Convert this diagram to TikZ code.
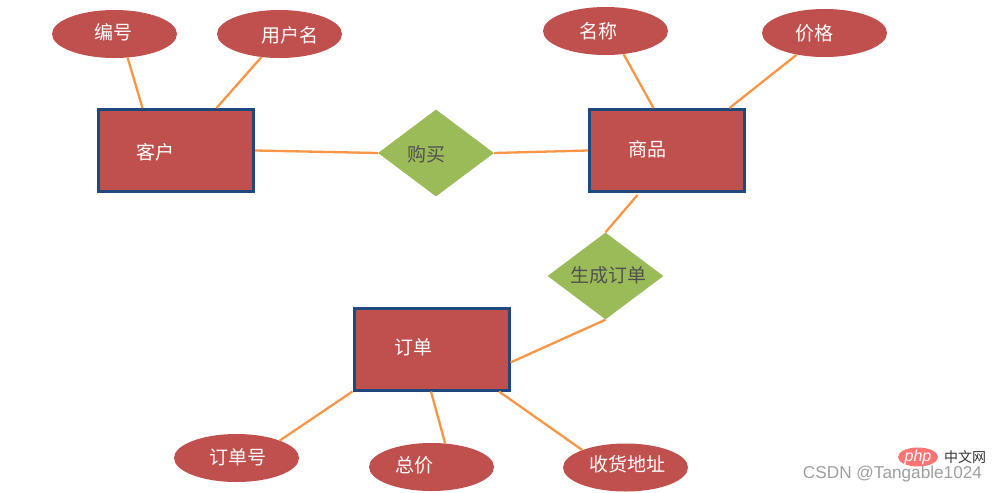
\documentclass[tikz,border=0pt]{standalone}
\usepackage{fontspec}
\setmainfont{Noto Sans CJK SC}
\newfontfamily\wmfont{Liberation Sans}
\usetikzlibrary{shapes.geometric}
\definecolor{erred}{HTML}{C0504D}
\definecolor{erblue}{HTML}{1F497D}
\definecolor{ergreen}{HTML}{9BBB59}
\definecolor{erorange}{HTML}{F79646}
\definecolor{ergray}{HTML}{505050}
\tikzset{
  attr/.style={ellipse, fill=erred, minimum width=125pt, minimum height=48pt, inner sep=0pt},
  entity/.style={rectangle, fill=erred, draw=erblue, line width=3pt, minimum width=155pt, minimum height=82pt, inner sep=0pt},
  rel/.style={diamond, fill=ergreen, minimum width=116pt, minimum height=87pt, inner sep=0pt, aspect=1.33},
  wlabel/.style={text=white, font=\fontsize{19}{21}\selectfont, inner sep=0pt},
  glabel/.style={text=ergray, font=\fontsize{19}{21}\selectfont, inner sep=0pt},
  link/.style={draw=erorange, line width=2.3pt}
}
\begin{document}
\begin{tikzpicture}[x=1pt,y=-1pt]
\useasboundingbox (0,0) rectangle (997,493);
% attributes
\node[attr] (bh) at (114.5,34) {};
\node[wlabel] at (113,32) {编号};
\node[attr] (yhm) at (279.5,34) {};
\node[wlabel] at (290,35) {用户名};
\node[attr] (mc) at (605.5,31) {};
\node[wlabel] at (598,31) {名称};
\node[attr] (jg) at (824.5,33) {};
\node[wlabel] at (814,33) {价格};
\node[attr] (ddh) at (236.5,458) {};
\node[wlabel] at (238,457) {订单号};
\node[attr] (zj) at (431.5,467) {};
\node[wlabel] at (414,465) {总价};
\node[attr] (shdz) at (625.5,467.5) {};
\node[wlabel] at (627,464) {收货地址};
% entities
\node[entity] (kh) at (176,150.5) {};
\node[wlabel] at (155,152) {客户};
\node[entity] (sp) at (667,150.5) {};
\node[wlabel] at (647,149) {商品};
\node[entity] (dd) at (431.5,349) {};
\node[wlabel] at (413,347) {订单};
% relations
\node[rel] (gm) at (436,153) {};
\node[glabel] at (426,154) {购买};
\node[rel] (scdd) at (605.5,276) {};
\node[glabel] at (608,275) {生成订单};
% links
\draw[link] (bh.-61) -- ([xshift=45.5pt]kh.north west);
\draw[link] (yhm.-128) -- ([xshift=119.5pt]kh.north west);
\draw[link] (kh.east) -- (gm.west);
\draw[link] (gm.east) -- (sp.west);
\draw[link] (mc.-52) -- ([xshift=65.5pt]sp.north west);
\draw[link] (jg.-142) -- ([xshift=141.5pt]sp.north west);
\draw[link] ([xshift=49.5pt,yshift=-2pt]sp.south west) -- (scdd.north);
\draw[link] (scdd.south) -- ([yshift=29pt]dd.south east);
\draw[link] (dd.south west) -- (ddh.22);
\draw[link] ([xshift=78.5pt]dd.south west) -- (zj.60);
\draw[link] ([xshift=146.5pt]dd.south west) -- (shdz.158);
% watermark
\node[ellipse, fill=red!55!white, minimum width=40pt, minimum height=19pt, inner sep=0pt] (php) at (918,457) {};
\node[text=white, font=\wmfont\itshape\fontsize{16}{17}\selectfont, inner sep=0pt] at (php.center) {php};
\node[text=black!80, font=\fontsize{14}{15}\selectfont, inner sep=0pt] (zw) at (965,457) {中文网};
\node[text=black!38, font=\wmfont\fontsize{17.2}{18}\selectfont, inner sep=0pt] (csdn) at (892.5,474) {CSDN @Tangable1024};
\end{tikzpicture}
\end{document}
